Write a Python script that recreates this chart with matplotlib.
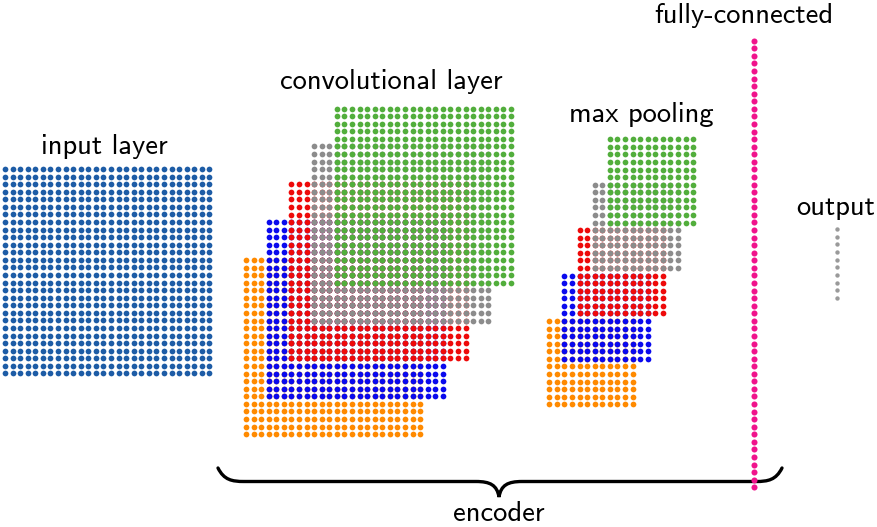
import matplotlib.pyplot as plt
import numpy as np
from matplotlib.path import Path
from matplotlib.patches import PathPatch

# layer sizes (number of units per side / per column)
input_size = 28
conv_size = 24
pool_size = 12
fc_units = 60
output_units = 10

# feature map colours, back to front
map_colors = ['#ff8a00', '#0a0aee', '#ee0a0a', '#8c8c8c', '#52ae3c']
input_color = '#1d5ca6'
fc_color = '#f0148c'
output_color = '#9a9a9a'

labels = ['input layer', 'convolutional layer', 'max pooling',
          'fully-connected', 'output', 'encoder']

# layout (pixels)
s = 7.57
dot = 17

fig = plt.figure(figsize=(8.78, 5.27), dpi=100)
ax = fig.add_axes([0, 0, 1, 1])
ax.set_xlim(0, 878)
ax.set_ylim(527, 0)
ax.axis('off')


def grid(x0, y0, n, color):
    i, j = np.meshgrid(np.arange(n), np.arange(n))
    ax.scatter(x0 + i.ravel() * s, y0 + j.ravel() * s, s=dot, c=color,
               linewidths=0)


# input
grid(5, 169, input_size, input_color)

# conv maps: shift 3 cols right, 5 rows up
for k, c in enumerate(map_colors):
    grid(246 + 3 * k * s, 260 - 5 * k * s, conv_size, c)

# pooled maps: shift 2 cols right, 6 rows up
for k, c in enumerate(map_colors):
    grid(549.3 + 2 * k * s, 321 - 6 * k * s, pool_size, c)

# fully connected column
ax.scatter(np.full(fc_units, 754), 40.7 + np.arange(fc_units) * s,
           s=19, c=fc_color, linewidths=0, zorder=3)

# output
ax.scatter(np.full(output_units, 837.3), 229 + np.arange(output_units) * 7.65,
           s=10, c=output_color, linewidths=0)

# brace
verts = [(218, 468), (224, 480), (232, 481.5), (244, 481.5),
         (476, 481.5),
         (490, 481.5), (497, 485), (499, 497),
         (501, 485), (508, 481.5), (522, 481.5),
         (756, 481.5),
         (768, 481.5), (776, 480), (782, 468)]
codes = [Path.MOVETO, Path.CURVE4, Path.CURVE4, Path.CURVE4,
         Path.LINETO,
         Path.CURVE4, Path.CURVE4, Path.CURVE4,
         Path.CURVE4, Path.CURVE4, Path.CURVE4,
         Path.LINETO,
         Path.CURVE4, Path.CURVE4, Path.CURVE4]
ax.add_patch(PathPatch(Path(verts, codes), fill=False, lw=2.4,
                       ec='black', capstyle='round', zorder=2))

# labels
font = dict(fontsize=20.5, family='cmss10', ha='center', va='baseline')
ax.text(104, 154, labels[0], **font)
ax.text(391, 89, labels[1], **font)
ax.text(641, 122, labels[2], **font)
ax.text(744, 23, labels[3], **font)
ax.text(836, 215, labels[4], **font)
ax.text(499, 521, labels[5], **font)

plt.savefig('out.png')
